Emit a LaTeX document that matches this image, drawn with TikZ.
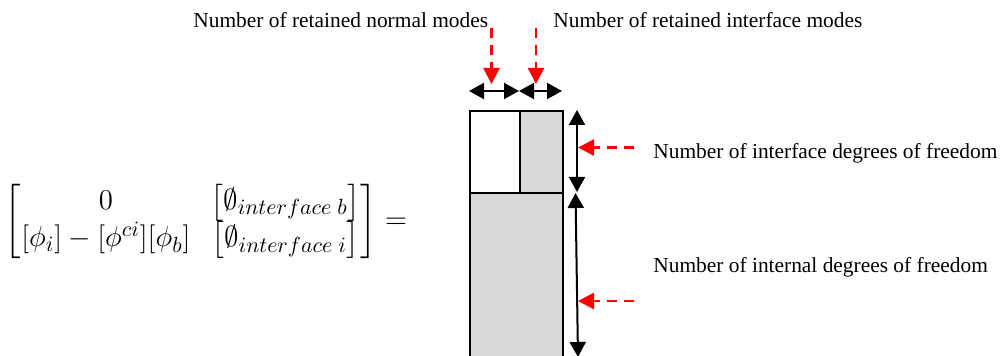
\documentclass[tikz,border=0pt]{standalone}
\usepackage{amsmath,amssymb}
\usepackage{fontspec}
\setmainfont{Liberation Serif}
\usetikzlibrary{arrows.meta}
\definecolor{boxgray}{RGB}{217,217,217}
\definecolor{arrred}{RGB}{255,0,0}
\tikzset{
  lbl/.style={font=\fontsize{10.7}{12}\selectfont, inner sep=0pt, anchor=base west},
  dimarrow/.style={line width=1pt, {Triangle[length=7.5pt,width=8pt]}-{Triangle[length=7.5pt,width=8pt]}},
  ptrarrow/.style={draw=arrred, line width=1.2pt, dash pattern=on 5pt off 3.5pt, -{Triangle[length=8pt,width=8pt,fill=arrred]}},
  cell/.style={draw=black, line width=1pt, inner sep=0pt, minimum size=0pt},
}
\begin{document}
\begin{tikzpicture}[x=0.5pt,y=-0.5pt]
\useasboundingbox (0,0) rectangle (1000,356);
\clip (0,0) rectangle (1000,356);
% matrix equation
\node[inner sep=0pt] (mat) at (206,221) {\fontsize{15.5}{18}\selectfont$\begin{bmatrix} 0 & \bigl[\emptyset_{interface\;b}\bigr] \\ [\phi_i]-[\phi^{ci}][\phi_b] & \bigl[\emptyset_{interface\;i}\bigr]\end{bmatrix} =$};
% boxes
\node[cell, fill=white, anchor=north west, minimum width=25pt, minimum height=41pt] (tl) at (469,110) {};
\node[cell, fill=boxgray, anchor=north west, minimum width=21.5pt, minimum height=41pt] (tr) at (519,110) {};
\node[cell, fill=boxgray, anchor=north west, minimum width=46.5pt, minimum height=90pt] (bot) at (469,192) {};
% top dimension arrows
\coordinate (h1) at (469,91);
\coordinate (h2) at (519,91);
\coordinate (h3) at (562,91);
\draw[dimarrow] (h1) -- (h2);
\draw[dimarrow] (h2) -- (h3);
% right dimension arrows
\coordinate (v1) at (577,110);
\coordinate (v2) at (577,192);
\coordinate (v3) at (575.5,193);
\coordinate (v4) at (578,357);
\draw[dimarrow] (v1) -- (v2);
\draw[dimarrow] (v3) -- (v4);
% labels
\node[lbl] (tn) at (193,28) {Number of retained normal modes};
\node[lbl] (ti) at (553,28) {Number of retained interface modes};
\node[lbl] (ri) at (653,159) {Number of interface degrees of freedom};
\node[lbl] (rn) at (653,273) {Number of internal degrees of freedom};
% red pointer arrows
\coordinate (p1s) at (491.5,28);
\coordinate (p1e) at (491.5,84);
\coordinate (p2s) at (536,28);
\coordinate (p2e) at (536,84);
\coordinate (p3s) at (634,147.5);
\coordinate (p3e) at (578,147.5);
\coordinate (p4s) at (634,301);
\coordinate (p4e) at (578,301);
\draw[ptrarrow] (p1s) -- (p1e);
\draw[ptrarrow] (p2s) -- (p2e);
\draw[ptrarrow] (p3s) -- (p3e);
\draw[ptrarrow] (p4s) -- (p4e);
\end{tikzpicture}
\end{document}
